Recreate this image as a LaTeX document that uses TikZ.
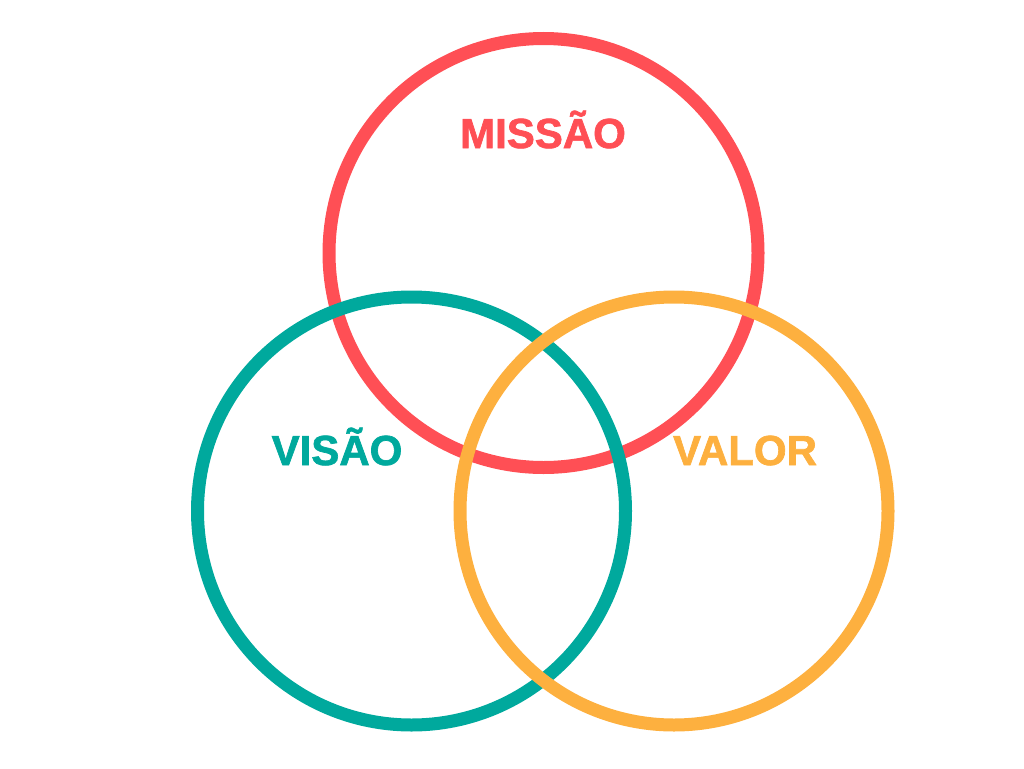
\documentclass[tikz,border=0pt]{standalone}
\usepackage{fontspec}
\setmainfont{Liberation Sans}
\newfontfamily\heavyfont[FakeBold=1.6]{Liberation Sans Bold}
\definecolor{missaored}{HTML}{FF4F55}
\definecolor{visaoteal}{HTML}{00A99D}
\definecolor{valororange}{HTML}{FDB03F}
\begin{document}
\begin{tikzpicture}[x=1pt, y=-1pt,
  ring/.style={line width=13pt},
  ringlabel/.style={anchor=base, font=\fontsize{42}{46}\heavyfont}]
  \useasboundingbox (0,0) rectangle (1024,768);
  % the three rings, red below, orange on top
  \draw[ring, missaored] (543.5,253) circle[radius=214.5];
  \draw[ring, visaoteal] (411.5,511) circle[radius=214];
  \draw[ring, valororange] (674,511) circle[radius=214];
  \node[ringlabel, missaored] (missao) at (543,148) {MISSÃO};
  \node[ringlabel, visaoteal] (visao) at (337,465) {VISÃO};
  \node[ringlabel, valororange] (valor) at (745,465) {VALOR};
\end{tikzpicture}
\end{document}
